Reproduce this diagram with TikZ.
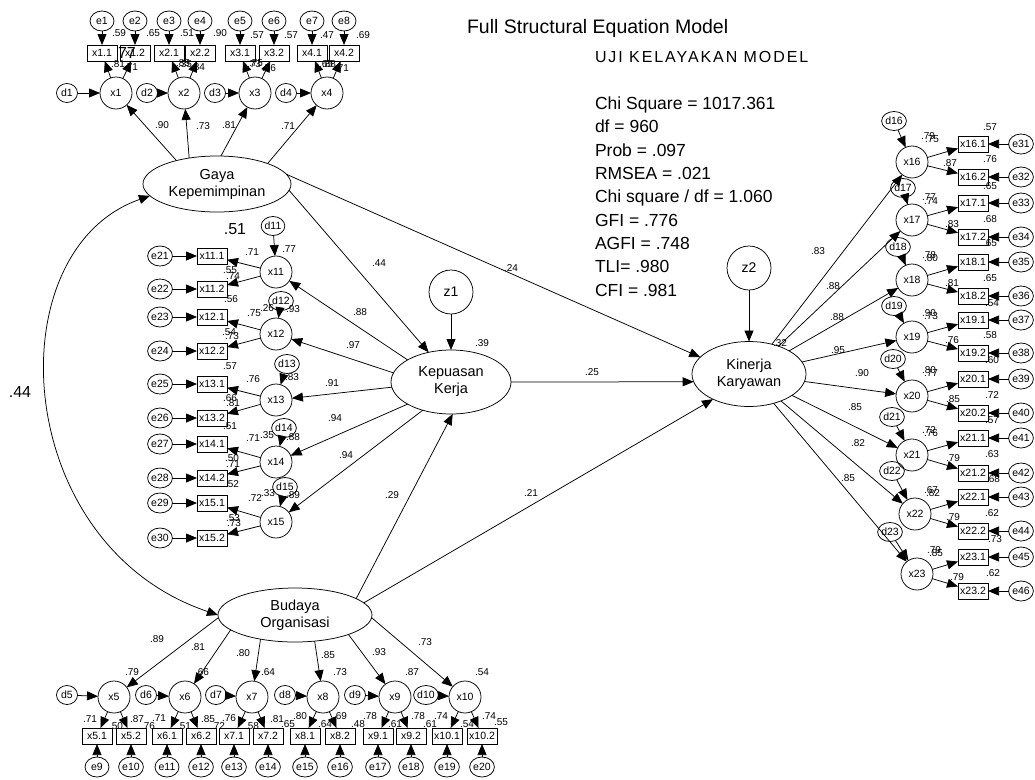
\documentclass[tikz,border=0pt]{standalone}
\usepackage{fontspec}
\setmainfont{Liberation Sans}
\usetikzlibrary{shapes.geometric,arrows.meta}
\begin{document}
\begin{tikzpicture}[x=1pt,y=-1pt,
  every node/.style={inner sep=0pt, outer sep=0pt},
  ln/.style={line width=0.75pt},
  arr/.style={ln, -{Triangle[length=11pt,width=9pt]}},
  dbl/.style={ln, {Triangle[length=11pt,width=9pt]}-{Triangle[length=11pt,width=9pt]}},
  lat/.style={ellipse, draw, ln, align=center, font=\fontsize{14.5}{17}\selectfont},
  zc/.style={circle, draw, ln, minimum size=44pt, font=\fontsize{14}{16}\selectfont},
  ind/.style={circle, draw, ln, minimum size=32pt, font=\fontsize{10.5}{12}\selectfont},
  dst/.style={ellipse, draw, ln, minimum width=21pt, minimum height=19pt, font=\fontsize{10.5}{12}\selectfont},
  err/.style={ellipse, draw, ln, minimum width=24pt, minimum height=20pt, font=\fontsize{10.5}{12}\selectfont},
  obs/.style={rectangle, draw, ln, minimum width=30pt, minimum height=16pt, font=\fontsize{10.5}{12}\selectfont},
  lbl/.style={font=\fontsize{10}{11}\selectfont},
  big/.style={font=\fontsize{16}{18}\selectfont},
]
\fill[white] (0,0) rectangle (1035,779);
\useasboundingbox (0,0) rectangle (1035,779);

% ---------- headings and fit statistics ----------
\node[anchor=west, font=\fontsize{19.5}{22}\selectfont] (title) at (467,28) {Full Structural Equation Model};
\node[anchor=west, font=\fontsize{16}{19}\selectfont\addfontfeature{LetterSpace=12}] (uji) at (595,57) {UJI KELAYAKAN MODEL};
\node[anchor=north west, align=left, font=\fontsize{17.5}{23.3}\selectfont] (fit) at (595,97)
  {Chi Square = 1017.361\\ df = 960\\ Prob = .097\\ RMSEA = .021\\ Chi square / df = 1.060\\ GFI = .776\\ AGFI = .748\\ TLI= .980\\ CFI = .981};

% ---------- latent constructs ----------
\node[lat, minimum width=148pt, minimum height=56pt] (gaya) at (217,184) {Gaya\\Kepemimpinan};
\node[lat, minimum width=120pt, minimum height=64pt] (kep) at (451,382) {Kepuasan\\Kerja};
\node[lat, minimum width=114pt, minimum height=65pt] (kin) at (749,374) {Kinerja\\Karyawan};
\node[lat, minimum width=154pt, minimum height=54pt] (bud) at (295,615) {Budaya\\Organisasi};
\node[zc] (z1) at (451,292) {z1};
\node[zc] (z2) at (749,268) {z2};

% ---------- structural paths ----------
\draw[arr] (gaya.-5) -- (kep.127);
\draw[arr] (gaya.8) -- (kin.161);
\draw[arr] (kep.east) -- (kin.188);
\draw[arr] (bud.15) -- (kep.-87);
\draw[arr] (bud.10) -- (kin.215);
\draw[arr] (z1) -- (kep);
\draw[arr] (z2) -- (kin);
\draw[dbl] (gaya.190) .. controls (-5,250) and (10,545) .. (bud.180);

% ---------- Gaya Kepemimpinan indicators ----------
\foreach \i/\X/\A/\B/\D/\ea/\eb in {1/116/102/135/67/1/2, 2/184/169/200/147/3/4, 3/255/240/274/215/5/6, 4/327/312/344/286/7/8}{
  \node[ind] (x\i) at (\X,93) {x\i};
  \node[dst] (d\i) at (\D,93) {d\i};
  \node[obs] (o\i-a) at (\A,53) {x\i.1};
  \node[obs] (o\i-b) at (\B,53) {x\i.2};
  \node[err] (e\ea) at (\A,21) {e\ea};
  \node[err] (e\eb) at (\B,21) {e\eb};
  \draw[arr] (d\i) -- (x\i);
  \draw[arr] (x\i) -- (o\i-a);
  \draw[arr] (x\i) -- (o\i-b);
  \draw[arr] (e\ea) -- (o\i-a);
  \draw[arr] (e\eb) -- (o\i-b);
}
\draw[arr] (gaya.150) -- (x1);
\draw[arr] (gaya.137) -- (x2);
\draw[arr] (gaya.82) -- (x3);
\draw[arr] (gaya.22) -- (x4);

% ---------- Kepuasan Kerja indicators ----------
\foreach \i/\Y/\A/\B/\dx/\dy/\ea/\eb in {11/272/256/289/273/226/21/22, 12/334/317/351/281/301/23/24, 13/400/384/418/287/364/25/26, 14/462/444/478/284/428/27/28, 15/522/503/538/285/487/29/30}{
  \node[ind] (x\i) at (276,\Y) {x\i};
  \node[dst] (d\i) at (\dx,\dy) {d\i};
  \node[obs] (o\i-a) at (212,\A) {x\i.1};
  \node[obs] (o\i-b) at (212,\B) {x\i.2};
  \node[err] (e\ea) at (160,\A) {e\ea};
  \node[err] (e\eb) at (160,\B) {e\eb};
  \draw[arr] (d\i) -- (x\i);
  \draw[arr] (x\i) -- (o\i-a);
  \draw[arr] (x\i) -- (o\i-b);
  \draw[arr] (e\ea) -- (o\i-a);
  \draw[arr] (e\eb) -- (o\i-b);
}
\draw[arr] (kep.153) -- (x11);
\draw[arr] (kep.171) -- (x12);
\draw[arr] (kep.185) -- (x13);
\draw[arr] (kep.207) -- (x14);
\draw[arr] (kep.225) -- (x15);

% ---------- Kinerja Karyawan indicators ----------
\foreach \i/\X/\Y/\A/\B/\dx/\dy/\ea/\eb in {16/912/162/144/177/894/121/31/32, 17/912/220/203/237/903/188/33/34, 18/912/280/262/296/898/247/35/36, 19/912/337/320/353/894/306/37/38, 20/912/396/379/413/893/359/39/40, 21/912/455/438/473/892/417/41/42, 22/915/514/497/531/892/471/43/44, 23/917/574/557/591/890/532/45/46}{
  \node[ind] (x\i) at (\X,\Y) {x\i};
  \node[dst] (d\i) at (\dx,\dy) {d\i};
  \node[obs] (o\i-a) at (973,\A) {x\i.1};
  \node[obs] (o\i-b) at (973,\B) {x\i.2};
  \node[err] (e\ea) at (1021,\A) {e\ea};
  \node[err] (e\eb) at (1021,\B) {e\eb};
  \draw[arr] (d\i) -- (x\i);
  \draw[arr] (x\i) -- (o\i-a);
  \draw[arr] (x\i) -- (o\i-b);
  \draw[arr] (e\ea) -- (o\i-a);
  \draw[arr] (e\eb) -- (o\i-b);
  \draw[arr] (kin) -- (x\i);
}

% ---------- Budaya Organisasi indicators ----------
\foreach \i/\X/\A/\B/\D/\ea/\eb in {5/114/97/131/67/9/10, 6/185/167/201/146/11/12, 7/252/234/268/216/13/14, 8/323/305/340/285/15/16, 9/395/378/411/355/17/18, 10/465/447/482/426/19/20}{
  \node[ind] (x\i) at (\X,697) {x\i};
  \node[dst] (d\i) at (\D,695) {d\i};
  \node[obs] (o\i-a) at (\A,736) {x\i.1};
  \node[obs] (o\i-b) at (\B,736) {x\i.2};
  \node[err] (e\ea) at (\A,767) {e\ea};
  \node[err] (e\eb) at (\B,767) {e\eb};
  \draw[arr] (d\i) -- (x\i);
  \draw[arr] (x\i) -- (o\i-a);
  \draw[arr] (x\i) -- (o\i-b);
  \draw[arr] (e\ea) -- (o\i-a);
  \draw[arr] (e\eb) -- (o\i-b);
}
\draw[arr] (bud.182) -- (x5);
\draw[arr] (bud.193) -- (x6);
\draw[arr] (bud.215) -- (x7);
\draw[arr] (bud.307) -- (x8);
\draw[arr] (bud.340) -- (x9);
\draw[arr] (bud.358) -- (x10);

% ---------- estimates ----------
\node[big] (c44) at (20,392) {.44};
\node[big] (r51) at (235,229) {.51};
\node[big] (r77) at (127,53) {77};

% structural estimates
\foreach \t/\x/\y [count=\k] in {.44/379/263, .24/511/268, .39/482/343, .25/592/372, .29/392/495, .21/531/493, .32/780/343,
  .90/162/125, .73/203/126, .81/229/125, .71/288/126,
  .88/360/312, .97/353/345, .91/332/383, .94/335/418, .94/346/455,
  .83/818/251, .88/833/286, .88/837/317, .95/838/350, .90/862/373, .85/855/407, .82/858/443, .85/848/478,
  .89/157/639, .81/198/647, .80/243/653, .85/328/655, .93/379/652, .73/425/642}
  {\node[lbl] (s\k) at (\x,\y) {\t};}

% top measurement estimates
\foreach \t/\x/\y [count=\k] in {.59/119/33, .65/153/33, .51/187/33, .90/220/33, .57/257/35, .57/291/35, .47/327/35, .69/363/35,
  .81/118/64, .71/131/67, .85/183/63, .35/185/64, .84/198/67, .75/256/63, .73/254/64, .76/269/68, .65/326/64, .88/329/64, .71/342/68}
  {\node[lbl] (t\k) at (\x,\y) {\t};}

% left measurement estimates
\foreach \t/\x/\y [count=\k] in {.71/252/252, .77/289/249, .55/230/270, .74/233/276, .56/231/299,
  .75/254/313, .26/267/308, .93/293/309, .54/229/332, .73/232/336, .57/230/366,
  .83/292/377, .76/253/379, .66/230/398, .81/233/403, .51/230/426,
  .35/267/435, .88/293/437, .71/253/438, .50/232/458, .71/233/464, .52/232/484,
  .33/268/493, .89/293/495, .72/255/498, .53/233/518, .73/234/523}
  {\node[lbl] (l\k) at (\x,\y) {\t};}

% right measurement estimates
\foreach \t/\x/\y [count=\k] in {.79/928/136, .75/932/139, .57/990/127, .87/950/163, .76/990/159, .65/990/186,
  .77/929/197, .74/931/201, .83/952/224, .68/990/219, .65/990/243,
  .78/929/255, .80/931/258, .81/952/283, .65/990/278, .54/992/303,
  .90/929/313, .73/931/316, .76/952/340, .58/990/335, .60/992/360,
  .80/929/370, .77/931/373, .85/953/399, .72/992/395, .57/992/420,
  .72/929/430, .76/931/433, .79/953/458, .63/992/454, .68/993/479,
  .67/931/490, .82/933/493, .79/953/517, .62/992/513, .73/995/539,
  .79/934/550, .85/936/553, .79/957/577, .62/993/573}
  {\node[lbl] (r\k) at (\x,\y) {\t};}

% bottom measurement estimates
\foreach \t/\x/\y [count=\k] in {.79/132/672, .66/202/672, .64/268/672, .73/340/672, .87/412/672, .54/482/672,
  .71/90/719, .50/116/726, .87/137/719, .71/159/718, .76/148/726, .51/184/726, .85/208/719,
  .76/229/718, .72/218/726, .58/252/726, .81/277/719, .65/288/724,
  .80/300/716, .64/325/724, .69/340/716, .48/358/724, .78/370/716, .61/395/724,
  .78/418/716, .61/430/724, .74/441/716, .54/467/724, .74/489/716, .55/501/722}
  {\node[lbl] (b\k) at (\x,\y) {\t};}
\end{tikzpicture}
\end{document}
